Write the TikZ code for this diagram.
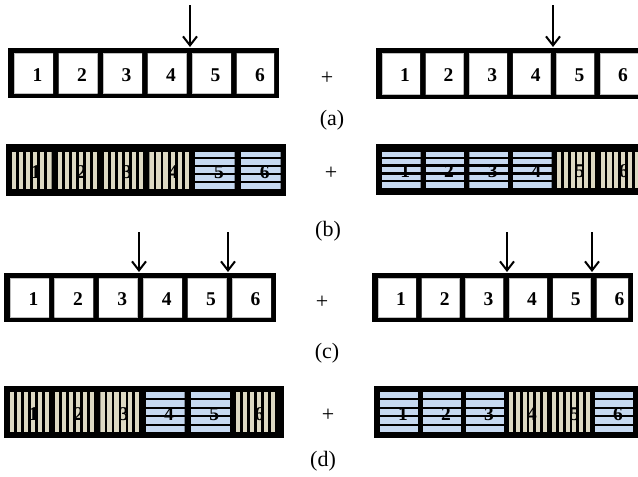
\documentclass[tikz,border=0pt]{standalone}
\usepackage{fontspec}
\setmainfont{Liberation Serif}
\usetikzlibrary{arrows.meta}
\definecolor{beige}{HTML}{DDD9C3}
\definecolor{stripeblue}{HTML}{C6D9F1}
\tikzset{
  digit/.style={font=\bfseries\fontsize{19.5}{19.5}\selectfont, inner sep=0pt},
  lbl/.style={font=\fontsize{22}{22}\selectfont, inner sep=0pt},
  cut/.style={line width=2pt, -{Straight Barb[length=9pt,width=14pt,line width=2pt]}},
}
% #1 name, #2 x0, #3 y0, #4 x1, #5 y1, #6 pitch, #7 cell width, #8 vertical margin, #9 cell types
\newcommand\chromo[9]{%
  \fill[black] (#2,#3) rectangle (#4,#5);
  \begin{scope}
    \clip (#2,#3) rectangle (#4-5,#5);
    \foreach \celltype [count=\i] in {#9} {
      \pgfmathsetmacro\cellL{#2+6+(\i-1)*#6}
      \pgfmathsetmacro\cellT{#3+#8}
      \pgfmathsetmacro\cellH{#5-#3-2*#8}
      \begin{scope}
        \clip (\cellL,\cellT) rectangle ++(#7,\cellH);
        \if w\celltype
          \fill[white] (\cellL,\cellT) rectangle ++(#7,\cellH);
          \draw[gray!50, line width=1pt] (\cellL,\cellT) rectangle ++(#7,\cellH);
        \else\if v\celltype
          \pgfmathsetmacro\stripV{(#7+2.7)/6}
          \foreach \k in {0,...,5} \fill[beige] (\cellL+\k*\stripV,\cellT) rectangle ++(\stripV-2.7,\cellH);
        \else
          \pgfmathsetmacro\stripH{(\cellH+2.4)/5}
          \foreach \k in {0,...,4} \fill[stripeblue] (\cellL,\cellT+\k*\stripH) rectangle ++(#7,\stripH-2.4);
        \fi\fi
      \end{scope}
      \node[digit] (#1-\i) at (\cellL+#7/2+4,\cellT+\cellH/2+2) {\i};
    }
  \end{scope}
}
\begin{document}
\begin{tikzpicture}[x=1pt,y=-1pt]
\useasboundingbox (0,0) rectangle (638,477);
\clip (0,0) rectangle (638,477);
% row (a)
\chromo{aL}{8}{48}{279}{98}{44.5}{39}{5}{w,w,w,w,w,w}
\chromo{aR}{376}{48}{644}{99}{43.6}{38}{5}{w,w,w,w,w,w}
% row (b)
\chromo{bL}{6}{144}{286}{196}{45.8}{39.5}{7.5}{v,v,v,v,h,h}
\chromo{bR}{376}{144}{644}{195}{43.7}{38.5}{7.5}{h,h,h,h,v,v}
% row (c)
\chromo{cL}{4}{273}{276}{322}{44.4}{39}{5}{w,w,w,w,w,w}
\chromo{cR}{372}{273}{633}{322}{43.7}{38}{5}{w,w,w,w,w,w}
% row (d)
\chromo{dL}{4}{386}{284}{438}{45.2}{39}{6}{v,v,v,h,h,v}
\chromo{dR}{374}{386}{645}{438}{43}{38}{6}{h,h,h,v,v,h}
% plus signs and labels
\node[lbl] (plusA) at (327,78) {+};
\node[lbl] (labA) at (332,120) {(a)};
\node[lbl] (plusB) at (331,173) {+};
\node[lbl] (labB) at (328,231) {(b)};
\node[lbl] (plusC) at (322,302) {+};
\node[lbl] (labC) at (327,353) {(c)};
\node[lbl] (plusD) at (328,415) {+};
\node[lbl] (labD) at (323,461) {(d)};
% crossover points
\coordinate (cA1s) at (190,5);   \coordinate (cA1e) at (190,47);
\coordinate (cA2s) at (553,5);   \coordinate (cA2e) at (553,47);
\coordinate (cC1s) at (139,232); \coordinate (cC1e) at (139,272);
\coordinate (cC2s) at (228,232); \coordinate (cC2e) at (228,272);
\coordinate (cC3s) at (507,232); \coordinate (cC3e) at (507,272);
\coordinate (cC4s) at (592,232); \coordinate (cC4e) at (592,272);
\draw[cut] (cA1s) -- (cA1e);
\draw[cut] (cA2s) -- (cA2e);
\draw[cut] (cC1s) -- (cC1e);
\draw[cut] (cC2s) -- (cC2e);
\draw[cut] (cC3s) -- (cC3e);
\draw[cut] (cC4s) -- (cC4e);
\end{tikzpicture}
\end{document}
